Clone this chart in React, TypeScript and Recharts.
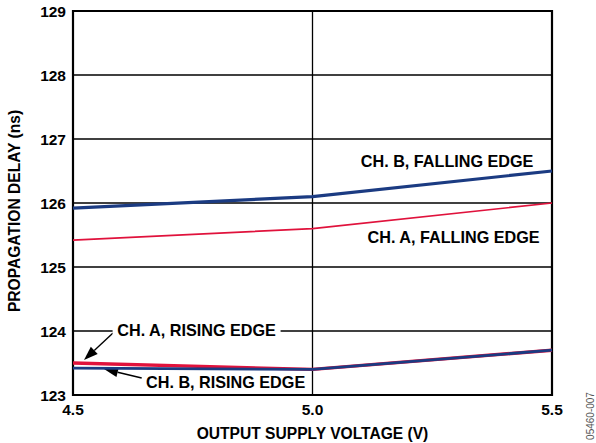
import {
  CartesianGrid,
  Label,
  Line,
  LineChart,
  ReferenceArea,
  ReferenceDot,
  ReferenceLine,
  XAxis,
  YAxis,
} from "recharts";

const voltages = [4.5, 5.0, 5.5];
const chBFalling = [125.92, 126.1, 126.5];
const chAFalling = [125.42, 125.6, 126.0];
const chARising = [123.5, 123.4, 123.7];
const chBRising = [123.42, 123.4, 123.7];

const xTicks = [4.5, 5.0, 5.5];
const yTicks = [123, 124, 125, 126, 127, 128, 129];

const data = voltages.map((v, i) => ({
  v,
  bFall: chBFalling[i],
  aFall: chAFalling[i],
  aRise: chARising[i],
  bRise: chBRising[i],
}));

const FONT = "'Liberation Sans', Arial, Helvetica, sans-serif";
const BLUE = "#1b3b82";
const RED = "#e0123c";

const textLabel = (text: string, blankWidth = 0) => (props: any) => {
  const { x, y } = props.viewBox;
  return (
    <g>
      {blankWidth > 0 && (
        <rect x={x - blankWidth / 2} y={y - 9} width={blankWidth} height={18} fill="#fff" />
      )}
      <text
        x={x}
        y={y}
        textAnchor="middle"
        dominantBaseline="central"
        fontFamily={FONT}
        fontWeight="bold"
        fontSize={16.2}
        fill="#000"
      >
        {text}
      </text>
    </g>
  );
};

const arrow = (props: any) => {
  const { x1, y1, x2, y2 } = props;
  const ang = Math.atan2(y2 - y1, x2 - x1);
  const len = 14;
  const w = 5;
  const bx = x2 - len * Math.cos(ang);
  const by = y2 - len * Math.sin(ang);
  const px = -Math.sin(ang) * w;
  const py = Math.cos(ang) * w;
  return (
    <g>
      <line x1={x1} y1={y1} x2={bx} y2={by} stroke="#000" strokeWidth={1.4} />
      <polygon points={`${x2},${y2} ${bx + px},${by + py} ${bx - px},${by - py}`} fill="#000" />
    </g>
  );
};

const App = () => {
  return (
    <div style={{ position: "absolute", left: 0, top: 0, width: 596, height: 443, background: "#fff" }}>
      <LineChart width={596} height={443} data={data} margin={{ top: 11, right: 44, bottom: 0, left: 0 }}>
        <CartesianGrid stroke="#000" strokeWidth={1.3} strokeOpacity={1} />
        <XAxis
          dataKey="v"
          type="number"
          domain={[4.5, 5.5]}
          ticks={xTicks}
          tickFormatter={(t: number) => t.toFixed(1)}
          axisLine={false}
          tickLine={false}
          tickMargin={3}
          height={48}
          tick={{ fill: "#000", fontFamily: FONT, fontWeight: "bold", fontSize: 15.5 }}
        >
          <Label
            value="OUTPUT SUPPLY VOLTAGE (V)"
            position="insideBottom"
            offset={4}
            style={{ fill: "#000", fontFamily: FONT, fontWeight: "bold", fontSize: 15.6 }}
          />
        </XAxis>
        <YAxis
          type="number"
          domain={[123, 129]}
          ticks={yTicks}
          axisLine={false}
          tickLine={false}
          tickMargin={1}
          width={73}
          tick={{ fill: "#000", fontFamily: FONT, fontWeight: "bold", fontSize: 15.5 }}
        >
          <Label
            content={(props: any) => {
              const { x, y, height } = props.viewBox;
              const cx = x + 14;
              const cy = y + height / 2 + 8;
              return (
                <text
                  x={cx}
                  y={cy}
                  transform={`rotate(-90, ${cx}, ${cy})`}
                  textAnchor="middle"
                  dominantBaseline="central"
                  fontFamily={FONT}
                  fontWeight="bold"
                  fontSize={15.6}
                  fill="#000"
                >
                  PROPAGATION DELAY (ns)
                </text>
              );
            }}
          />
        </YAxis>
        <ReferenceArea x1={4.5} x2={5.5} y1={123} y2={129} fill="none" stroke="#000" strokeWidth={2.2} fillOpacity={0} />
        <ReferenceDot x={4.758} y={124.016} r={0} label={{ content: textLabel("CH. A, RISING EDGE", 168) }} />
        <ReferenceDot x={4.8186} y={123.208} r={0} label={{ content: textLabel("CH. B, RISING EDGE", 166) }} />
        <ReferenceDot x={5.281} y={126.656} r={0} label={{ content: textLabel("CH. B, FALLING EDGE") }} />
        <ReferenceDot x={5.2946} y={125.469} r={0} label={{ content: textLabel("CH. A, FALLING EDGE") }} />
        <ReferenceLine
          segment={[
            { x: 4.5835, y: 123.969 },
            { x: 4.523, y: 123.547 },
          ]}
          shape={arrow}
        />
        <ReferenceLine
          segment={[
            { x: 4.6434, y: 123.266 },
            { x: 4.5647, y: 123.406 },
          ]}
          shape={arrow}
        />
        <Line dataKey="aFall" stroke={RED} strokeWidth={1.7} dot={false} isAnimationActive={false} />
        <Line dataKey="bFall" stroke={BLUE} strokeWidth={3.2} dot={false} isAnimationActive={false} />
        <Line dataKey="aRise" stroke={RED} strokeWidth={3.4} dot={false} isAnimationActive={false} />
        <Line dataKey="bRise" stroke={BLUE} strokeWidth={2.8} dot={false} isAnimationActive={false} />
      </LineChart>
      <div
        style={{
          position: "absolute",
          left: 590,
          top: 416,
          transform: "translate(-50%, -50%) rotate(-90deg)",
          fontFamily: FONT,
          fontSize: 10,
          color: "#555",
          whiteSpace: "nowrap",
        }}
      >
        05460-007
      </div>
    </div>
  );
};

export default App;
